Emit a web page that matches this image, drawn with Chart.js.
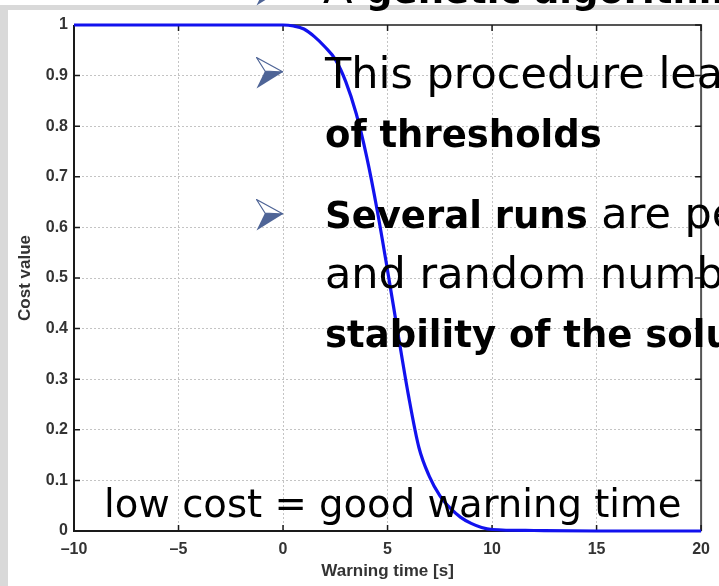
<!DOCTYPE html>
<html><head><meta charset="utf-8">
<script src="https://cdn.jsdelivr.net/npm/chart.js@4"></script>
<style>
html,body{margin:0;padding:0;width:719px;height:586px;overflow:hidden;background:#fff;}
#wrap{position:relative;width:719px;height:586px;overflow:hidden;}
.frame-top{position:absolute;left:0;top:5px;width:719px;height:5px;background:#d9d9d9;}
.frame-left{position:absolute;left:0;top:5px;width:8px;height:581px;background:#d9d9d9;}
canvas{position:absolute;left:0;top:0;}
.line{position:absolute;left:325px;white-space:nowrap;font-family:'DejaVu Sans';font-size:43px;line-height:1;color:#000;}
.b{font-weight:bold;font-size:37px;}
.bullet{position:absolute;left:256px;width:28px;height:32px;}
</style>
</head><body>
<div id="wrap">
<div class="frame-top"></div>
<div class="frame-left"></div>
<canvas id="c" width="719" height="586"></canvas>
<svg class="bullet" style="top:-26px" viewBox="0 0 28 32"><polygon points="0.5,0.5 27,15 9,14" fill="#fff" stroke="#4e6496" stroke-width="1.2"/><polygon points="9,14 27,15 0.5,31.5" fill="#4e6496"/></svg>
<svg class="bullet" style="top:57px" viewBox="0 0 28 32"><polygon points="0.5,0.5 27,15 9,14" fill="#fff" stroke="#4e6496" stroke-width="1.2"/><polygon points="9,14 27,15 0.5,31.5" fill="#4e6496"/></svg>
<svg class="bullet" style="top:199px" viewBox="0 0 28 32"><polygon points="0.5,0.5 27,15 9,14" fill="#fff" stroke="#4e6496" stroke-width="1.2"/><polygon points="9,14 27,15 0.5,31.5" fill="#4e6496"/></svg>
<div class="line" style="top:-33px;left:323px">A <span class="b">genetic algorithm</span></div>
<div class="line" style="top:51.6px">This procedure leads</div>
<div class="line" style="top:110.6px"><span class="b">of thresholds</span></div>
<div class="line" style="top:191.6px"><span class="b">Several runs</span> are performed</div>
<div class="line" style="top:251.6px">and random numbers</div>
<div class="line" style="top:310.6px"><span class="b">stability of the solution</span></div>
<div class="line" style="top:484.5px;left:104px;font-size:38.6px">low cost = good warning time</div>
</div>
<script>
const warningTime = [-10, -5, 0, 0.5, 1, 1.5, 2, 2.5, 3, 3.5, 4, 4.5, 5, 5.5, 6, 6.5, 7, 7.5, 8, 8.5, 9, 9.5, 10, 12, 15, 20];
const costValue   = [1, 1, 1, 0.998, 0.992, 0.977, 0.957, 0.932, 0.888, 0.825, 0.74, 0.635, 0.515, 0.39, 0.268, 0.165, 0.108, 0.07, 0.045, 0.027, 0.015, 0.007, 0.003, 0.001, 0, 0];
const xTickValues = [-10, -5, 0, 5, 10, 15, 20];
const xTickLabels = ['\u201310', '\u20135', '0', '5', '10', '15', '20'];
const yTickValues = [0, 0.1, 0.2, 0.3, 0.4, 0.5, 0.6, 0.7, 0.8, 0.9, 1];
const yTickLabels = ['0', '0.1', '0.2', '0.3', '0.4', '0.5', '0.6', '0.7', '0.8', '0.9', '1'];

const tickFont = {family: 'Liberation Sans', size: 16, weight: 'bold'};
const titleFont = {family: 'Liberation Sans', size: 17, weight: 'bold'};

const frameTicks = {
  id: 'frameTicks',
  beforeDatasetsDraw(chart) {
    const {ctx, chartArea: a, scales: {x, y}} = chart;
    ctx.save();
    ctx.lineWidth = 2;
    ctx.strokeStyle = '#555';
    ctx.beginPath();
    ctx.moveTo(a.left, a.top); ctx.lineTo(a.right, a.top); ctx.lineTo(a.right, a.bottom);
    ctx.stroke();
    ctx.strokeStyle = '#1a1a1a';
    ctx.beginPath();
    ctx.moveTo(a.left, a.top); ctx.lineTo(a.left, a.bottom); ctx.lineTo(a.right, a.bottom);
    ctx.stroke();
    ctx.lineWidth = 1.5;
    ctx.beginPath();
    x.ticks.forEach(t => {
      const px = x.getPixelForValue(t.value);
      ctx.moveTo(px, a.bottom); ctx.lineTo(px, a.bottom - 6);
      ctx.moveTo(px, a.top); ctx.lineTo(px, a.top + 6);
    });
    y.ticks.forEach(t => {
      const py = y.getPixelForValue(t.value);
      ctx.moveTo(a.left, py); ctx.lineTo(a.left + 6, py);
      ctx.moveTo(a.right, py); ctx.lineTo(a.right - 6, py);
    });
    ctx.stroke();
    ctx.restore();
  }
};

new Chart(document.getElementById('c'), {
  type: 'line',
  data: {
    datasets: [{
      data: warningTime.map((t, i) => ({x: t, y: costValue[i]})),
      borderColor: '#1212ee',
      borderWidth: 3.2,
      pointRadius: 0,
      cubicInterpolationMode: 'monotone',
      fill: false,
      clip: 4
    }]
  },
  options: {
    responsive: false,
    animation: false,
    devicePixelRatio: 1,
    layout: {padding: {top: 25, right: 12, left: 0, bottom: 0}},
    plugins: {legend: {display: false}, tooltip: {enabled: false}},
    scales: {
      x: {
        type: 'linear', min: -10, max: 20,
        afterBuildTicks: s => { s.ticks = xTickValues.map(v => ({value: v})); },
        afterFit: s => { s.height = 55; },
        grid: {color: '#c4c4c4', lineWidth: 1, drawTicks: false},
        border: {display: false, dash: [2, 2]},
        ticks: {font: tickFont, color: '#333', padding: 9, maxRotation: 0,
                callback: (v, i) => xTickLabels[i]},
        title: {display: true, text: 'Warning time [s]', font: titleFont, color: '#333', padding: {top: 0, bottom: 4}}
      },
      y: {
        type: 'linear', min: 0, max: 1,
        afterBuildTicks: s => { s.ticks = yTickValues.map(v => ({value: v})); },
        afterFit: s => { s.width = 74; },
        grid: {color: '#c4c4c4', lineWidth: 1, drawTicks: false},
        border: {display: false, dash: [2, 2]},
        ticks: {font: tickFont, color: '#333', padding: 6,
                callback: (v, i) => yTickLabels[i]},
        title: {display: true, text: 'Cost value', font: titleFont, color: '#333', padding: {top: 15, bottom: 0}}
      }
    }
  },
  plugins: [frameTicks]
});
</script>
</body></html>
